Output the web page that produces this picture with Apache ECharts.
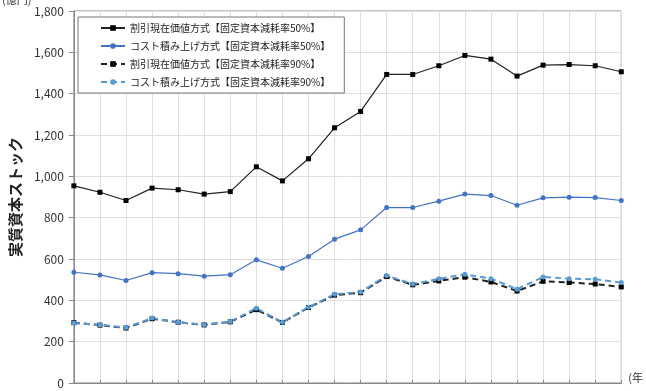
<!DOCTYPE html>
<html>
<head>
<meta charset="utf-8">
<script src="https://cdn.jsdelivr.net/npm/echarts@6/dist/echarts.min.js"></script>
<style>
  html, body { margin: 0; padding: 0; background: #fff; }
  #main { width: 646px; height: 391px; }
</style>
</head>
<body>
<div id="main"></div>
<script>
// 年次（ラベルは画面外）
const years = ['1994','1995','1996','1997','1998','1999','2000','2001','2002','2003','2004',
  '2005','2006','2007','2008','2009','2010','2011','2012','2013','2014','2015'];

const names = [
  '割引現在価値方式【固定資本減耗率50%】',
  'コスト積み上げ方式【固定資本減耗率50%】',
  '割引現在価値方式【固定資本減耗率90%】',
  'コスト積み上げ方式【固定資本減耗率90%】'
];

const pv50 = [954, 923, 883, 943, 935, 914, 926, 1046, 978, 1085, 1235,
  1314, 1493, 1493, 1535, 1585, 1567, 1485, 1538, 1541, 1535, 1506];
const cost50 = [536, 523, 496, 534, 529, 517, 524, 596, 555, 612, 696,
  741, 849, 849, 880, 914, 907, 860, 896, 899, 897, 883];
const pv90 = [292, 280, 266, 311, 294, 281, 296, 355, 293, 365, 425,
  437, 515, 475, 494, 512, 489, 445, 492, 486, 479, 465];
const cost90 = [290, 282, 268, 314, 294, 282, 297, 362, 294, 367, 430,
  440, 520, 479, 504, 526, 505, 454, 513, 505, 502, 486];

const font = '"Noto Sans CJK JP", "Noto Sans", sans-serif';

const myChart = echarts.init(document.getElementById('main'));
myChart.setOption({
  animation: false,
  textStyle: { fontFamily: font },
  grid: { left: 60, right: 17, top: 11, bottom: 8, show: true, borderColor: '#888', borderWidth: 1 },
  legend: {
    orient: 'vertical',
    left: 78, top: 17,
    itemWidth: 24, itemHeight: 7, itemGap: 8,
    padding: [6, 14, 6, 22],
    borderColor: '#777', borderWidth: 1,
    backgroundColor: '#fff',
    textStyle: { fontSize: 10, color: '#222', fontFamily: font },
    data: names
  },
  graphic: [
    { type: 'text', left: 2, top: -6, style: { text: '(億円)', fontSize: 11, fill: '#333', fontFamily: font } }
  ],
  xAxis: {
    type: 'category',
    data: years,
    boundaryGap: false,
    name: '(年',
    nameLocation: 'end',
    nameGap: 7,
    nameTextStyle: { fontSize: 11, color: '#333', verticalAlign: 'bottom' },
    axisLine: { lineStyle: { color: '#888' } },
    axisTick: { show: true, inside: true, length: 3, interval: 0, lineStyle: { color: '#888' } },
    axisLabel: { show: false, interval: 0 },
    splitLine: { show: true, interval: 0, lineStyle: { color: '#e0e0e0' } }
  },
  yAxis: {
    type: 'value',
    min: 0, max: 1800, interval: 200,
    name: '実質資本ストック',
    nameLocation: 'middle',
    nameGap: 47,
    nameRotate: 90,
    nameTextStyle: { fontSize: 15, fontWeight: 'bold', color: '#222' },
    axisLine: { show: true, lineStyle: { color: '#888' } },
    axisTick: { show: true, length: 5, lineStyle: { color: '#888' } },
    axisLabel: {
      fontSize: 12, color: '#333', margin: 10,
      formatter: v => v.toLocaleString('en-US')
    },
    splitLine: { lineStyle: { color: '#e0e0e0' } }
  },
  series: [
    {
      name: names[0], type: 'line', data: pv50,
      symbol: 'rect', symbolSize: 5,
      lineStyle: { color: '#222', width: 1.2 },
      itemStyle: { color: '#000' }
    },
    {
      name: names[1], type: 'line', data: cost50,
      symbol: 'circle', symbolSize: 5,
      lineStyle: { color: '#4472c4', width: 1.2 },
      itemStyle: { color: '#4472c4' }
    },
    {
      name: names[2], type: 'line', data: pv90,
      symbol: 'rect', symbolSize: 5,
      lineStyle: { color: '#222', width: 2, type: [6, 4] },
      itemStyle: { color: '#000' }
    },
    {
      name: names[3], type: 'line', data: cost90,
      symbol: 'circle', symbolSize: 5,
      lineStyle: { color: '#5b9bd5', width: 2, type: [6, 4] },
      itemStyle: { color: '#5b9bd5' }
    }
  ]
});
</script>
</body>
</html>
